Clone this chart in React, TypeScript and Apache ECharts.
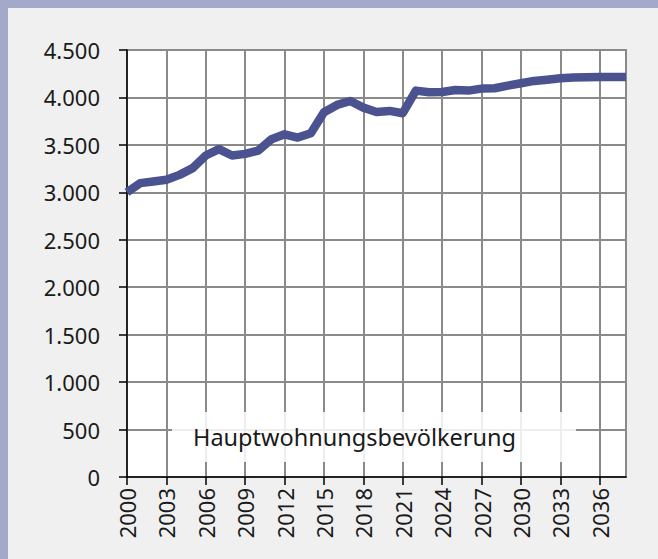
import React, { useEffect, useRef } from "react";
import * as echarts from "echarts";

const years: string[] = [
  "2000","2001","2002","2003","2004","2005","2006","2007","2008","2009",
  "2010","2011","2012","2013","2014","2015","2016","2017","2018","2019",
  "2020","2021","2022","2023","2024","2025","2026","2027","2028","2029",
  "2030","2031","2032","2033","2034","2035","2036","2037","2038",
];

const population: number[] = [
  3002, 3097, 3114, 3132, 3184, 3255, 3388, 3455, 3388, 3405,
  3440, 3560, 3612, 3577, 3623, 3844, 3921, 3963, 3893, 3847,
  3858, 3834, 4072, 4055, 4058, 4079, 4072, 4093, 4097, 4124,
  4149, 4174, 4187, 4202, 4209, 4212, 4216, 4216, 4216,
];

const seriesName = "Hauptwohnungsbevölkerung";

const FONT = "'Noto Sans', sans-serif";

export default function App() {
  const ref = useRef<HTMLDivElement>(null);

  useEffect(() => {
    if (!ref.current) return;
    const chart = echarts.init(ref.current, undefined, { renderer: "svg" });
    chart.setOption({
      animation: false,
      backgroundColor: "#f0f0f0",
      textStyle: { fontFamily: FONT },
      grid: {
        left: 119,
        top: 42,
        right: 32,
        bottom: 82,
        show: true,
        backgroundColor: "#ffffff",
        borderColor: "#8a8a8a",
        borderWidth: 2,
      },
      legend: {
        show: true,
        left: 164,
        top: 404,
        icon: "rect",
        itemWidth: 0,
        itemHeight: 0,
        itemGap: 0,
        padding: [10, 60, 10, 16],
        backgroundColor: "rgba(255,255,255,0.86)",
        selectedMode: false,
        textStyle: {
          fontFamily: FONT,
          fontSize: 23.5,
          color: "#1a1a1a",
          lineHeight: 30,
          height: 30,
        },
        data: [{ name: seriesName, itemStyle: { opacity: 0 } }],
      },
      xAxis: {
        type: "category",
        data: years,
        boundaryGap: false,
        axisLine: { show: true, lineStyle: { color: "#000000", width: 1.5 } },
        axisTick: {
          show: true,
          interval: 2,
          length: 8,
          lineStyle: { color: "#000000", width: 1.5 },
        },
        axisLabel: {
          interval: 2,
          rotate: 90,
          margin: 11,
          fontSize: 22,
          color: "#1a1a1a",
          fontFamily: FONT,
        },
        splitLine: {
          show: true,
          interval: 2,
          lineStyle: { color: "#8a8a8a", width: 2 },
        },
      },
      yAxis: {
        type: "value",
        min: 0,
        max: 4500,
        interval: 500,
        axisLine: { show: true, lineStyle: { color: "#000000", width: 1.5 } },
        axisTick: {
          show: true,
          length: 8,
          lineStyle: { color: "#000000", width: 1.5 },
        },
        axisLabel: {
          margin: 27,
          fontSize: 22,
          color: "#1a1a1a",
          fontFamily: FONT,
          formatter: (v: number) =>
            String(Math.round(v)).replace(/\B(?=(\d{3})+(?!\d))/g, "."),
        },
        splitLine: {
          show: true,
          lineStyle: { color: "#8a8a8a", width: 2 },
        },
      },
      series: [
        {
          name: seriesName,
          type: "line",
          data: population,
          showSymbol: false,
          symbol: "none",
          lineStyle: { color: "#4a528f", width: 8.5, join: "round" },
          itemStyle: { color: "#4a528f" },
          z: 3,
        },
      ],
    });
    return () => chart.dispose();
  }, []);

  return (
    <div
      style={{
        position: "fixed",
        left: 0,
        top: 0,
        width: 658,
        height: 559,
        background: "#a4a9c9",
      }}
    >
      <div
        ref={ref}
        style={{ position: "absolute", left: 8, top: 8, width: 650, height: 551 }}
      />
    </div>
  );
}
